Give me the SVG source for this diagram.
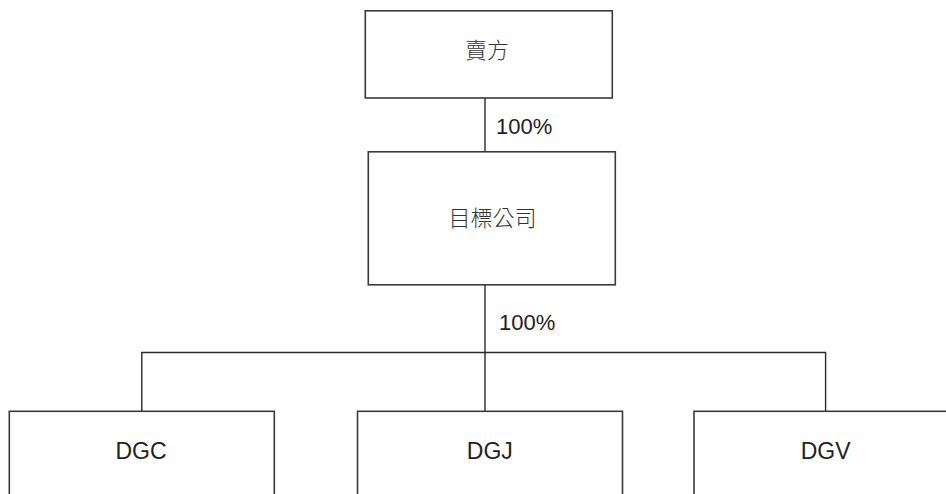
<svg xmlns="http://www.w3.org/2000/svg" width="946" height="494" viewBox="0 0 946 494">
<style>
.box{fill:#fff;stroke:#3a3a3a;stroke-width:1.6}
.ln{fill:none;stroke:#2a2a2a;stroke-width:1.4}
.lat{font-family:"Liberation Sans",Arial,sans-serif;font-size:23px;fill:#222}
.cjk{font-family:"Noto Sans CJK TC","Noto Sans CJK SC",sans-serif;font-size:22px;fill:#333;font-weight:300}
.pct{font-family:"Liberation Sans",Arial,sans-serif;font-size:22px;fill:#222}
</style>
<rect width="946" height="494" fill="#fff"/>
<g id="connectors">
<line class="ln" x1="485" y1="98" x2="485" y2="152"/>
<line class="ln" x1="485" y1="285" x2="485" y2="411"/>
<polyline class="ln" points="141.8,411 141.8,352.5 825.6,352.5 825.6,411"/>
<text class="pct" x="496" y="133.5">100%</text>
<text class="pct" x="499" y="329.5">100%</text>
</g>
<g id="seller">
<rect class="box" x="365.3" y="10.8" width="247" height="87.2"/>
<text class="cjk" x="487" y="58" text-anchor="middle">賣方</text>
</g>
<g id="target">
<rect class="box" x="368.3" y="151.8" width="247" height="133"/>
<text class="cjk" x="492.5" y="225.5" text-anchor="middle">目標公司</text>
</g>
<g id="dgc">
<rect class="box" x="9.3" y="411.3" width="265" height="100"/>
<text class="lat" x="141" y="459" text-anchor="middle">DGC</text>
</g>
<g id="dgj">
<rect class="box" x="357.5" y="411.3" width="265" height="100"/>
<text class="lat" x="489.8" y="459" text-anchor="middle">DGJ</text>
</g>
<g id="dgv">
<rect class="box" x="694" y="411.3" width="265" height="100"/>
<text class="lat" x="825.6" y="459" text-anchor="middle">DGV</text>
</g>
</svg>
